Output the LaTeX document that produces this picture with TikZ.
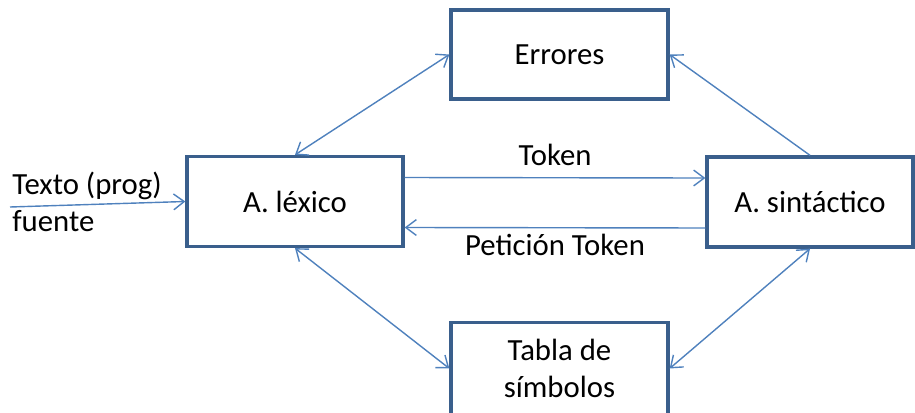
\documentclass[tikz,border=0pt]{standalone}
\usepackage{fontspec}
\setmainfont{Carlito}
\usetikzlibrary{arrows.meta,positioning}
\definecolor{boxline}{RGB}{58,95,140}
\definecolor{arrowline}{RGB}{79,129,189}
\begin{document}
\begin{tikzpicture}[
       x=0.02cm, y=-0.02cm,
       font=\fontsize{17.5}{21}\selectfont,
       box/.style={rectangle, draw=boxline, line width=1.9pt, minimum width=4.34cm, minimum height=1.78cm, inner sep=0pt, align=center, fill=white},
       arrow/.style={-{Straight Barb[length=6pt,width=9pt]}, line width=0.8pt, arrowline},
       biarrow/.style={{Straight Barb[length=6pt,width=9pt]}-{Straight Barb[length=6pt,width=9pt]}, line width=0.8pt, arrowline},
       lbl/.style={text=black}
   ]
   \useasboundingbox (0,0) rectangle (915,412);
   \node[box] (errores) at (559.5,54.5) {Errores};
   \node[box, minimum width=4.32cm, minimum height=1.8cm] (lexico) at (295,201.5) {A. léxico};
   \node[box, minimum width=4.12cm, minimum height=1.8cm] (sintactico) at (810,202) {A. sintáctico};
   \node[box, minimum height=1.84cm] (tabla) at (559.5,368.5) {Tabla de\\símbolos};
   \node[anchor=west, align=left, inner sep=0pt] (fuente) at (12,202) {Texto (prog)\\fuente};
   \coordinate (entrada) at (10,207);

   \draw[arrow] (entrada) -- (lexico.west);
   \draw[arrow] ([yshift=0.48cm]lexico.east) -- node[lbl, above=3pt] (token) {Token} ([yshift=0.48cm]sintactico.west);
   \draw[arrow] ([yshift=-0.52cm]sintactico.west) -- node[lbl, below=0pt] (peticion) {Petición Token} ([yshift=-0.52cm]lexico.east);
   \draw[biarrow] (lexico.north) -- (errores.west);
   \draw[arrow] (sintactico.north) -- (errores.east);
   \draw[biarrow] (lexico.south) -- (tabla.west);
   \draw[biarrow] (sintactico.south) -- (tabla.east);
   \end{tikzpicture}
\end{document}
